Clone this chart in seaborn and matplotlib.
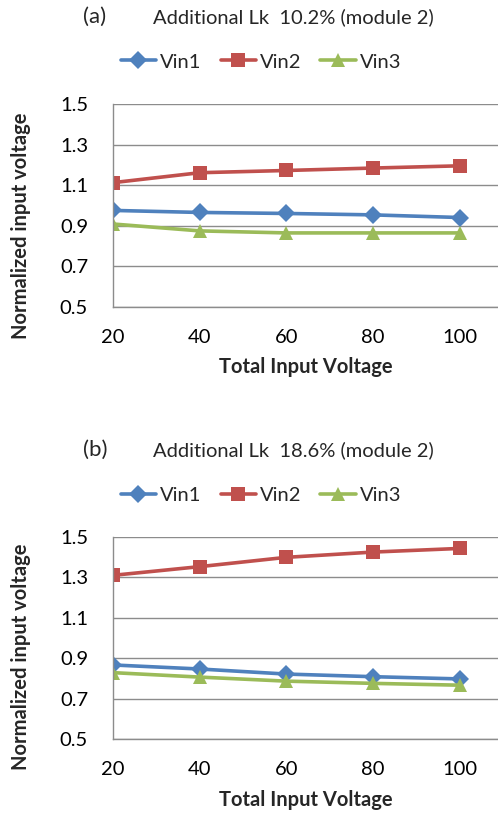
import matplotlib
matplotlib.use("Agg")
import matplotlib.pyplot as plt
import seaborn as sns
import pandas as pd

sns.set_theme(style="white")
plt.rcParams["font.family"] = ["Lato", "DejaVu Sans"]

# Total input voltage (x categories)
voltage = [20, 40, 60, 80, 100]

# (a) Additional Lk 10.2% (module 2)
a_vin1 = [0.975, 0.965, 0.960, 0.953, 0.940]
a_vin2 = [1.112, 1.161, 1.172, 1.184, 1.195]
a_vin3 = [0.908, 0.874, 0.864, 0.864, 0.864]

# (b) Additional Lk 18.6% (module 2)
b_vin1 = [0.866, 0.846, 0.821, 0.808, 0.797]
b_vin2 = [1.309, 1.352, 1.398, 1.424, 1.442]
b_vin3 = [0.828, 0.806, 0.786, 0.775, 0.766]

series_names = ["Vin1", "Vin2", "Vin3"]
y_ticks = [0.5, 0.7, 0.9, 1.1, 1.3, 1.5]
x_ticks = [20, 40, 60, 80, 100]

panels = [
    ("(a)", "Additional Lk  10.2% (module 2)", [a_vin1, a_vin2, a_vin3]),
    ("(b)", "Additional Lk  18.6% (module 2)", [b_vin1, b_vin2, b_vin3]),
]

palette = {"Vin1": "#4F81BD", "Vin2": "#C0504D", "Vin3": "#9BBB59"}
markers = {"Vin1": "D", "Vin2": "s", "Vin3": "^"}

W, H = 498, 814
fig = plt.figure(figsize=(W / 100, H / 100), dpi=100)

# pixel layout of each panel
layout = [
    dict(top=104, bottom=306.7, title_y=17, legend_y=62, xlabel_y=367, ylabel_y=226),
    dict(top=536.7, bottom=739, title_y=450, legend_y=495, xlabel_y=800, ylabel_y=657),
]
left_px = 113

for (tag, title, values), lay in zip(panels, layout):
    ax = fig.add_axes([left_px / W, 1 - lay["bottom"] / H,
                       (W - left_px) / W + 0.01, (lay["bottom"] - lay["top"]) / H])
    df = pd.DataFrame({
        "voltage": voltage * 3,
        "value": values[0] + values[1] + values[2],
        "series": [s for s in series_names for _ in voltage],
    })
    sns.lineplot(data=df, x="voltage", y="value", hue="series", style="series",
                 palette=palette, markers=markers, dashes=False, linewidth=2.6,
                 markersize=9, markeredgewidth=0, ax=ax, legend=True)
    for line in ax.lines:
        if line.get_marker() in ("s", "^"):
            line.set_markersize(10)
    handles, labels = ax.get_legend_handles_labels()
    ax.get_legend().remove()
    fig.legend(handles, labels, loc="center", ncol=3, frameon=False,
               bbox_to_anchor=(261 / W, 1 - lay["legend_y"] / H),
               fontsize=14.5, handlelength=1.75, handletextpad=0.2,
               columnspacing=0.95)

    ax.set_xlim(20, 110)
    ax.set_ylim(0.5, 1.5)
    ax.set_xticks(x_ticks)
    ax.set_xticklabels([str(v) for v in x_ticks])
    ax.set_yticks(y_ticks)
    ax.set_yticklabels([f"{v:.1f}" for v in y_ticks])
    ax.tick_params(axis="both", length=0, labelsize=14.5, colors="black")
    ax.tick_params(axis="y", pad=18)
    ax.tick_params(axis="x", pad=16)
    ax.yaxis.grid(True, color="#8c8c8c", linewidth=1.0)
    ax.xaxis.grid(False)
    for side in ["top", "right"]:
        ax.spines[side].set_visible(False)
    for side in ["left", "bottom"]:
        ax.spines[side].set_color("#8c8c8c")
        ax.spines[side].set_linewidth(1.0)
    ax.set_xlabel("")
    ax.set_ylabel("")

    fig.text(306 / W, 1 - lay["xlabel_y"] / H, "Total Input Voltage",
             fontsize=14.5, fontweight="bold", ha="center", va="center")
    fig.text(21 / W, 1 - lay["ylabel_y"] / H, "Normalized input voltage",
             fontsize=14.5, fontweight="bold", ha="center", va="center", rotation=90)
    fig.text(95 / W, 1 - lay["title_y"] / H, tag, fontsize=16, ha="center", va="center")
    fig.text(153 / W, 1 - lay["title_y"] / H, title, fontsize=14.5, ha="left", va="center")

fig.savefig("out.png", dpi=100)
